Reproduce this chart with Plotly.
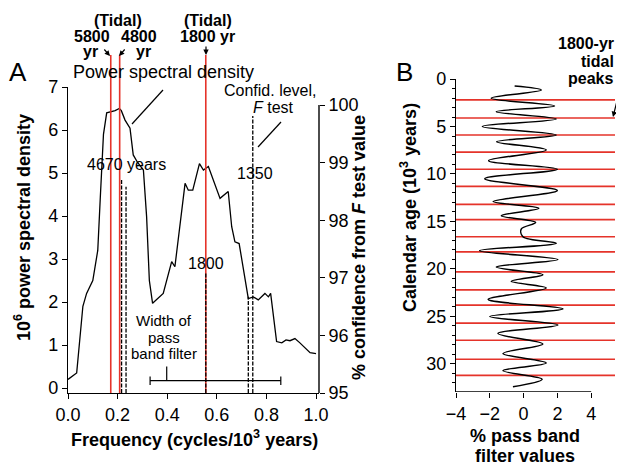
import plotly.graph_objects as go

# ---------------- data ----------------
# Panel A: power spectral density
freq = [0.0, 0.035, 0.06, 0.075, 0.10, 0.12, 0.13, 0.137, 0.143, 0.156, 0.176, 0.19, 0.207, 0.215,
        0.23, 0.25, 0.263, 0.28, 0.304, 0.317, 0.328, 0.341, 0.384, 0.418, 0.431, 0.472, 0.485,
        0.503, 0.53, 0.546, 0.566, 0.613, 0.646, 0.66, 0.673, 0.69, 0.727, 0.747, 0.767, 0.794,
        0.808, 0.817, 0.841, 0.862, 0.879, 0.895, 0.915, 0.935, 0.976, 1.0]
psd = [0.2, 0.35, 1.9, 2.2, 2.5, 3.2, 4.4, 5.07, 5.9, 6.4, 6.43, 6.45, 6.5, 6.45,
       6.23, 6.04, 5.42, 5.25, 5.07, 3.98, 2.5, 1.97, 2.2, 2.94, 2.82, 4.76, 4.6,
       4.6, 5.22, 5.07, 5.15, 4.41, 4.57, 3.75, 3.40, 3.36, 2.08, 2.12, 2.05, 2.2,
       2.12, 2.2, 1.08, 1.05, 1.12, 1.1, 1.15, 1.05, 0.82, 0.8]

# confidence level (F test) markers, right axis
conf_freq = [0.216, 0.234, 0.5556, 0.727, 0.745]
conf_level = [98.72, 98.58, 97.08, 96.67, 99.81]

# tidal periods (10^3 yr)
tidal_periods = [5.8, 4.8, 1.8]

# pass band filter width
band_low, band_high = 0.331, 0.858

# Panel B: pass band filter values vs calendar age
age = [0.74, 1.16, 2.03, 2.84, 3.44, 4.2, 5.0, 5.9, 6.6, 7.47, 8.6, 9.5, 10.5, 11.75, 12.9, 13.6,
       14.4, 15.1, 15.8, 16.6, 17.3, 18.07, 19.0, 19.8, 20.6, 21.3, 22.0, 23.2, 24.2, 25.0, 25.9,
       26.8, 27.9, 28.9, 29.9, 30.7, 31.6, 32.4]
filt = [-0.53, 1.05, -1.91, 1.83, -1.62, 1.93, -2.44, 1.93, -1.6, 1.34, -2.07, 2.0, -2.3, 2.0,
        -1.8, 0.9, -1.32, 0.71, -0.14, -0.04, 1.93, -2.6, 2.03, -1.62, 1.14, -0.73, 1.34, -2.1,
        2.33, -2.0, 2.03, -1.52, 1.14, -1.22, 1.34, -1.22, 1.1, -0.63]
tidal_peaks = [2.2, 4.1, 5.9, 7.7, 9.5, 11.3, 13.2, 14.8, 16.6, 18.2, 20.3, 22.2, 23.8, 25.7,
               27.5, 29.5, 31.2]

xticks_a = [0.0, 0.2, 0.4, 0.6, 0.8, 1.0]
xticklabels_a = ["0.0", "0.2", "0.4", "0.6", "0.8", "1.0"]
yticks_a = [0, 1, 2, 3, 4, 5, 6, 7]
yticks_a2 = [95, 96, 97, 98, 99, 100]
xticks_b = [-4, -2, 0, 2, 4]
yticks_b = [0, 5, 10, 15, 20, 25, 30]

# ---------------- layout helpers ----------------
# the page body adds an 8px offset, so the figure is 8px smaller and
# positions below are given in window pixels
OFF = 8
W, H = 624 - OFF, 468 - OFF
def X(p): return (p - OFF) / W
def Y(p): return 1 - (p - OFF) / H

RED = "#e5332a"
FONT = "Liberation Sans, Arial, Helvetica, sans-serif"

fig = go.Figure()
fig.add_trace(go.Scatter(x=freq, y=psd, mode="lines", xaxis="x", yaxis="y",
                         line=dict(color="black", width=1.3), showlegend=False))
fig.add_trace(go.Scatter(x=filt, y=age, mode="lines", xaxis="x3", yaxis="y3",
                         line=dict(color="black", width=1.5, shape="spline", smoothing=1.0),
                         showlegend=False))
# invisible trace to activate y2
fig.add_trace(go.Scatter(x=[None], y=[None], xaxis="x", yaxis="y2", showlegend=False))

shapes = []
# red tidal lines panel A
for p in tidal_periods:
    shapes.append(dict(type="line", xref="x", yref="paper", x0=1 / p, x1=1 / p,
                       y0=Y(393), y1=Y(55), line=dict(color=RED, width=1.6)))
# confidence dashed lines
for f, c in zip(conf_freq, conf_level):
    shapes.append(dict(type="line", xref="x", yref="y2", x0=f, x1=f, y0=95, y1=c,
                       line=dict(color="black", width=1.3, dash="4px,1.5px")))
# pass band width bar
band_y = 0.17
shapes.append(dict(type="line", xref="x", yref="y", x0=band_low, x1=band_high, y0=band_y, y1=band_y,
                   line=dict(color="black", width=1.2)))
for bx in (band_low, band_high):
    shapes.append(dict(type="line", xref="x", yref="y", x0=bx, x1=bx, y0=band_y - 0.1, y1=band_y + 0.1,
                       line=dict(color="black", width=1.2)))
shapes.append(dict(type="line", xref="x", yref="y", x0=0.398, x1=0.398, y0=band_y, y1=0.5,
                   line=dict(color="black", width=1.2)))
# right axis line panel A
shapes.append(dict(type="line", xref="paper", yref="y2", x0=X(319), x1=X(319), y0=95, y1=100,
                   line=dict(color="black", width=1.4)))
# leader lines
shapes.append(dict(type="line", xref="paper", yref="paper", x0=X(163), y0=Y(90), x1=X(132), y1=Y(124),
                   line=dict(color="black", width=1.2)))
shapes.append(dict(type="line", xref="paper", yref="paper", x0=X(281), y0=Y(122), x1=X(258), y1=Y(147),
                   line=dict(color="black", width=1.2)))
# panel B red lines
for a in tidal_peaks:
    shapes.append(dict(type="line", xref="x3 domain", yref="y3", x0=0, x1=1, y0=a, y1=a,
                       line=dict(color=RED, width=1.6), layer="below"))
# panel B x axis line
shapes.append(dict(type="line", xref="x3", yref="y3", x0=-4, x1=4, y0=32.95, y1=32.95,
                   line=dict(color="black", width=1.4)))

ann = []
def txt(t, x, y, size=16, bold=False, xanchor="center", angle=0):
    if bold:
        t = "<b>" + t + "</b>"
    ann.append(dict(text=t, x=X(x), y=Y(y), xref="paper", yref="paper", showarrow=False,
                    xanchor=xanchor, yanchor="middle", textangle=angle,
                    font=dict(size=size, color="black", family=FONT)))

def arrow(x, y, ax, ay):
    ann.append(dict(text="", x=X(x), y=Y(y), xref="paper", yref="paper", showarrow=True,
                    ax=ax, ay=ay, arrowhead=2, arrowsize=0.9, arrowwidth=1.2, arrowcolor="black"))

txt("A", 18, 72, size=26)
txt("B", 405, 72, size=26)
txt("Power spectral density", 164, 72, size=18)
txt("(Tidal)", 118, 21, size=16, bold=True)
txt("5800", 92, 37, size=16, bold=True)
txt("yr", 90, 51, size=16, bold=True)
txt("4800", 139, 37, size=16, bold=True)
txt("yr", 143, 51, size=16, bold=True)
txt("(Tidal)", 208, 21, size=16, bold=True)
txt("1800 yr", 207, 37, size=16, bold=True)
arrow(110, 56, -7, -8)
arrow(119, 56, 7, -8)
arrow(206, 55, 0, -10)
txt("4670 years", 126, 165, size=16)
txt("1350", 255, 173, size=16)
txt("Confid. level,", 270, 91, size=16)
txt("<i>F</i> test", 273, 108, size=16)
txt("1800", 206, 263, size=16)
txt("Width of", 164, 320, size=15)
txt("pass", 164, 337, size=15)
txt("band filter", 164, 353, size=15)
txt("Frequency (cycles/10<sup>3</sup> years)", 194, 438, size=18, bold=True)
txt("10<sup>6</sup> power spectral density", 22, 228, size=18, bold=True, angle=-90)
txt("% confidence from <i>F</i> test value", 359, 248, size=18, bold=True, angle=-90)
txt("Calendar age (10<sup>3</sup> years)", 409, 208, size=18, bold=True, angle=-90)
txt("% pass band", 525, 436, size=18, bold=True)
txt("filter values", 525, 456, size=18, bold=True)
txt("1800-yr", 616, 43, size=16, bold=True, xanchor="right")
txt("tidal", 616, 61, size=16, bold=True, xanchor="right")
txt("peaks", 615, 78, size=16, bold=True, xanchor="right")
arrow(613, 117, 7, -28)

axis_common = dict(showgrid=False, zeroline=False, ticks="outside", ticklen=5, tickwidth=1.3,
                   tickcolor="black", linecolor="black", linewidth=1.4, automargin=False,
                   tickfont=dict(size=18, color="black", family=FONT))

fig.update_layout(
    width=W, height=H, margin=dict(l=0, r=0, t=0, b=0, pad=0, autoexpand=False),
    paper_bgcolor="white", plot_bgcolor="rgba(0,0,0,0)",
    font=dict(family=FONT, color="black"),
    xaxis=dict(domain=[X(68), X(319)], range=[0, 1.012], anchor="y", tickvals=xticks_a,
               ticktext=xticklabels_a, showline=True, **axis_common),
    yaxis=dict(domain=[Y(393), Y(87)], range=[-0.116, 7], anchor="x", tickvals=yticks_a,
               showline=True, **axis_common),
    yaxis2=dict(overlaying="y", side="right", anchor="x", range=[95, 100.3125], tickvals=yticks_a2,
                showline=False, **axis_common),
    xaxis3=dict(domain=[X(456), X(615)], range=[-4, 5.41], anchor="y3", tickvals=xticks_b,
                showline=False, **axis_common),
    yaxis3=dict(domain=[Y(392), Y(79)], range=[32.95, 0], anchor="x3", tickvals=yticks_b,
                showline=True,
                minor=dict(dtick=1, ticks="outside", ticklen=3, tickcolor="black", tickwidth=1.2),
                **axis_common),
    shapes=shapes, annotations=ann,
)

fig.write_html("out.html")
